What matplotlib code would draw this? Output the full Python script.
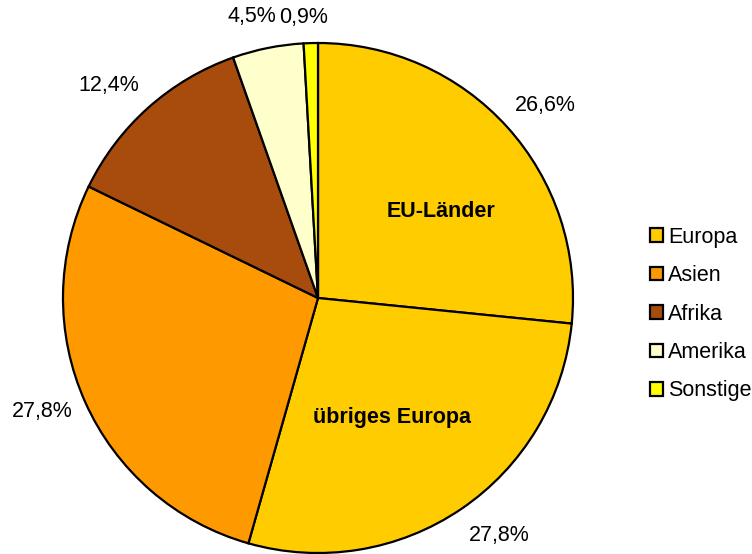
import numpy as np
import matplotlib.pyplot as plt
from matplotlib.patches import Patch

plt.rcParams["font.family"] = ["Liberation Sans", "DejaVu Sans"]

# slices, clockwise from the top
slice_names = ["EU-Länder", "übriges Europa", "Asien", "Afrika", "Amerika", "Sonstige"]
shares = [26.6, 27.8, 27.8, 12.4, 4.5, 0.9]
slice_colors = ["#FFCC00", "#FFCC00", "#FF9900", "#A84C0E", "#FFFFCC", "#FFFF00"]

# legend groups
legend_names = ["Europa", "Asien", "Afrika", "Amerika", "Sonstige"]
legend_colors = ["#FFCC00", "#FF9900", "#A84C0E", "#FFFFCC", "#FFFF00"]

FS = 15.5

fig = plt.figure(figsize=(7.52, 5.54), dpi=100)
ax = fig.add_axes([0, 0, 1, 1])

cx, cy, r = 318, 554 - 298, 255

wedges, texts = ax.pie(
    shares,
    colors=slice_colors,
    startangle=90,
    counterclock=False,
    center=(cx, cy),
    radius=r,
    wedgeprops=dict(edgecolor="black", linewidth=1.6),
    frame=True,
)
ax.set_xlim(0, 752)
ax.set_ylim(0, 554)
ax.set_aspect("equal")
ax.axis("off")

# percent labels outside (angle nudge in degrees, distance in radii)
label_pos = [(-1.9, 1.17), (3.2, 1.17), (-1.7, 1.17), (2.8, 1.17), (1.8, 1.135), (1.3, 1.103)]
for w, s, (off, d) in zip(wedges, shares, label_pos):
    ang = np.deg2rad((w.theta1 + w.theta2) / 2 + off)
    ax.text(cx + d * r * np.cos(ang), cy + d * r * np.sin(ang),
            f"{s:.1f}%".replace(".", ","),
            ha="center", va="center", fontsize=FS)

# slice names inside the two Europe slices
for i, (ang_off, d) in [(0, (-7.0, 0.59)), (1, (-2.5, 0.55))]:
    w = wedges[i]
    ang = np.deg2rad((w.theta1 + w.theta2) / 2 + ang_off)
    ax.text(cx + d * r * np.cos(ang), cy + d * r * np.sin(ang), slice_names[i],
            ha="center", va="center", fontsize=FS, fontweight="bold")

handles = [Patch(facecolor=c, edgecolor="black", linewidth=1.6) for c in legend_colors]
ax.legend(handles, legend_names, loc="center left", bbox_to_anchor=(650 / 752, 0.433),
          frameon=False, fontsize=FS, handlelength=0.6, handleheight=0.6,
          handletextpad=0.25, labelspacing=0.81, borderpad=0, borderaxespad=0)

fig.savefig("out.png", dpi=100)
